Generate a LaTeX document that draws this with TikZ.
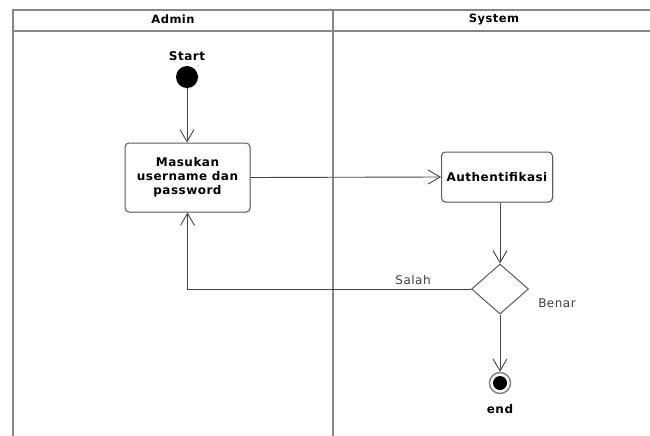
\documentclass[tikz,border=0pt]{standalone}
\usepackage{fontspec}
\setmainfont{DejaVu Sans}
\newfontfamily\widebold[LetterSpace=4]{DejaVu Sans}
\usetikzlibrary{arrows.meta,shapes.geometric,shadows}
\definecolor{lanegray}{RGB}{135,135,135}
\definecolor{linegray}{RGB}{70,70,70}
\definecolor{boxgray}{RGB}{90,90,90}
\begin{document}
\begin{tikzpicture}[x=1pt,y=-1pt,
  lane/.style={draw=lanegray, line width=1.6pt},
  conn/.style={draw=linegray, line width=0.9pt, -{Straight Barb[length=12pt,width=14pt,line width=0.9pt]}},
  actbox/.style={draw=boxgray, line width=1pt, rounded corners=4pt, fill=white, align=center,
     font=\widebold\fontsize{12}{14}\selectfont\bfseries, inner sep=4pt,
     drop shadow={opacity=0.25, shadow xshift=1.2pt, shadow yshift=-1.2pt}},
  lbl/.style={font=\widebold\fontsize{12}{14}\selectfont, text=black!75},
  blbl/.style={font=\widebold\fontsize{12}{14}\selectfont\bfseries},
  hdr/.style={font=\widebold\fontsize{11.5}{13}\selectfont\bfseries},
]
\useasboundingbox (0,0) rectangle (650,436);
\fill[white] (0,0) rectangle (650,436);
% swimlanes
\draw[lane] (651,10) -- (13,10) -- (13,437);
\draw[lane] (13,31) -- (651,31);
\draw[lane] (333,10) -- (333,437);
\node[hdr] (hadmin) at (173,19) {Admin};
\node[hdr] (hsys) at (494,19) {System};
% nodes
\node[blbl] (startlbl) at (187,56) {Start};
\node[circle, fill=black, minimum size=22pt, inner sep=0pt,
      drop shadow={opacity=0.2, shadow xshift=1pt, shadow yshift=-1pt}] (start) at (187,77) {};
\node[actbox, minimum width=125pt, minimum height=69pt] (masuk) at (187.5,177.5) {Masukan\\username dan\\password};
\node[actbox, minimum width=111pt, minimum height=50pt] (auth) at (497,177) {Authentifikasi};
\node[diamond, draw=boxgray, line width=1pt, fill=white, minimum width=57pt, minimum height=50pt, inner sep=0pt] (dec) at (500,289) {};
\node[circle, draw=lanegray, line width=1.5pt, fill=white, minimum size=21pt, inner sep=0pt] (endn) at (500,383) {};
\node[circle, fill=black, minimum size=14pt, inner sep=0pt] (endin) at (endn.center) {};
\node[blbl] (endlbl) at (500,409) {end};
\node[lbl] (salah) at (413,280) {Salah};
\node[lbl] (benar) at (557,303) {Benar};
% connectors
\draw[conn] (start) -- (masuk.north -| start);
\draw[conn] (masuk.east) -- (auth.west);
\draw[conn] (auth.south -| dec.north) -- (dec.north);
\draw[conn] (dec.west) -- (dec.west -| masuk.south) -- (masuk.south);
\draw[conn] (dec.south) -- (endn.north);
\end{tikzpicture}
\end{document}
